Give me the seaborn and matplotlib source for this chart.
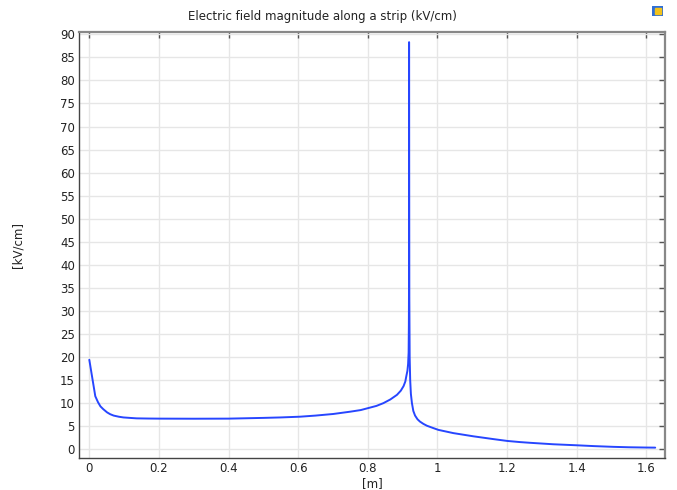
import numpy as np
import pandas as pd
import matplotlib
matplotlib.use("Agg")
import matplotlib.pyplot as plt
import seaborn as sns

# Arc length along the strip [m] and field magnitude [kV/cm]
arc_length = [0.0, 0.0172, 0.025, 0.032, 0.040, 0.051, 0.060, 0.070, 0.085,
              0.098, 0.12, 0.136, 0.17, 0.2, 0.3, 0.4, 0.5, 0.55, 0.6055,
              0.65, 0.701, 0.75, 0.78, 0.8, 0.825, 0.845, 0.865, 0.884,
              0.895, 0.903, 0.908, 0.911, 0.914, 0.916, 0.9175, 0.9182,
              0.9185, 0.9188, 0.9195, 0.9205, 0.922, 0.924, 0.927, 0.931,
              0.936, 0.943, 0.950, 0.960, 0.970, 0.988, 1.003, 1.046, 1.104,
              1.161, 1.201, 1.238, 1.266, 1.333, 1.4, 1.45, 1.506, 1.55,
              1.6, 1.626]
field_kv_cm = [19.4, 11.5, 10.2, 9.3, 8.7, 8.0, 7.6, 7.3, 7.05,
               6.9, 6.78, 6.7, 6.66, 6.64, 6.62, 6.64, 6.8, 6.9, 7.06,
               7.3, 7.65, 8.15, 8.5, 8.9, 9.4, 10.0, 10.8, 11.8,
               12.7, 13.7, 14.7, 15.9, 17.0, 18.5, 21.0, 27.0,
               33.0, 88.3, 33.0, 20.0, 15.0, 12.0, 10.0, 8.3,
               7.3, 6.5, 6.0, 5.5, 5.1, 4.6, 4.2, 3.5, 2.8,
               2.2, 1.8, 1.55, 1.4, 1.08, 0.86, 0.68, 0.52, 0.43,
               0.37, 0.35]

x_ticks = [0, 0.2, 0.4, 0.6, 0.8, 1, 1.2, 1.4, 1.6]
x_tick_labels = ["0", "0.2", "0.4", "0.6", "0.8", "1", "1.2", "1.4", "1.6"]
y_ticks = list(range(0, 91, 5))

df = pd.DataFrame({"s": arc_length, "E": field_kv_cm})

sns.set_style("white")
plt.rcParams["font.family"] = ["DejaVu Sans"]

fig = plt.figure(figsize=(6.77, 4.90), dpi=100)
ax = fig.add_axes([0.1167, 0.0653, 0.8655, 0.8694])

sns.lineplot(data=df, x="s", y="E", ax=ax, color="#2746ff", linewidth=1.4,
             sort=False, estimator=None)

ax.set_xlim(-0.0296, 1.654)
ax.set_ylim(-1.9, 90.5)
ax.set_xticks(x_ticks)
ax.set_xticklabels(x_tick_labels)
ax.set_yticks(y_ticks)

ax.grid(True, color="#e6e6e6", linewidth=1.0)
ax.set_axisbelow(True)

ax.tick_params(axis="both", which="both", direction="in", length=4,
               width=1, colors="#555555", labelcolor="#222222",
               labelsize=8.5, top=True, right=True, pad=3)

for side in ("left", "bottom"):
    ax.spines[side].set_color("#444444")
    ax.spines[side].set_linewidth(1.0)
for side in ("top", "right"):
    ax.spines[side].set_color("#888888")
    ax.spines[side].set_linewidth(1.6)

ax.set_xlabel("[m]", fontsize=8.5, color="#222222", labelpad=1)
ax.set_ylabel("[kV/cm]", fontsize=8.5, color="#222222")
ax.yaxis.set_label_coords(-0.093, 0.5)

fig.text(0.477, 0.967, "Electric field magnitude along a strip (kV/cm)",
         ha="center", va="center", fontsize=8.5, color="#222222")

# Small logo mark in the upper-right corner
logo = fig.add_axes([0.963, 0.968, 0.016, 0.02])
logo.add_patch(plt.Rectangle((0, 0), 1, 1, color="#2f6fd6"))
logo.add_patch(plt.Rectangle((0.25, 0.2), 0.55, 0.6, color="#f2c21b"))
logo.set_xlim(0, 1)
logo.set_ylim(0, 1)
logo.axis("off")

fig.savefig("out.png", dpi=100)
